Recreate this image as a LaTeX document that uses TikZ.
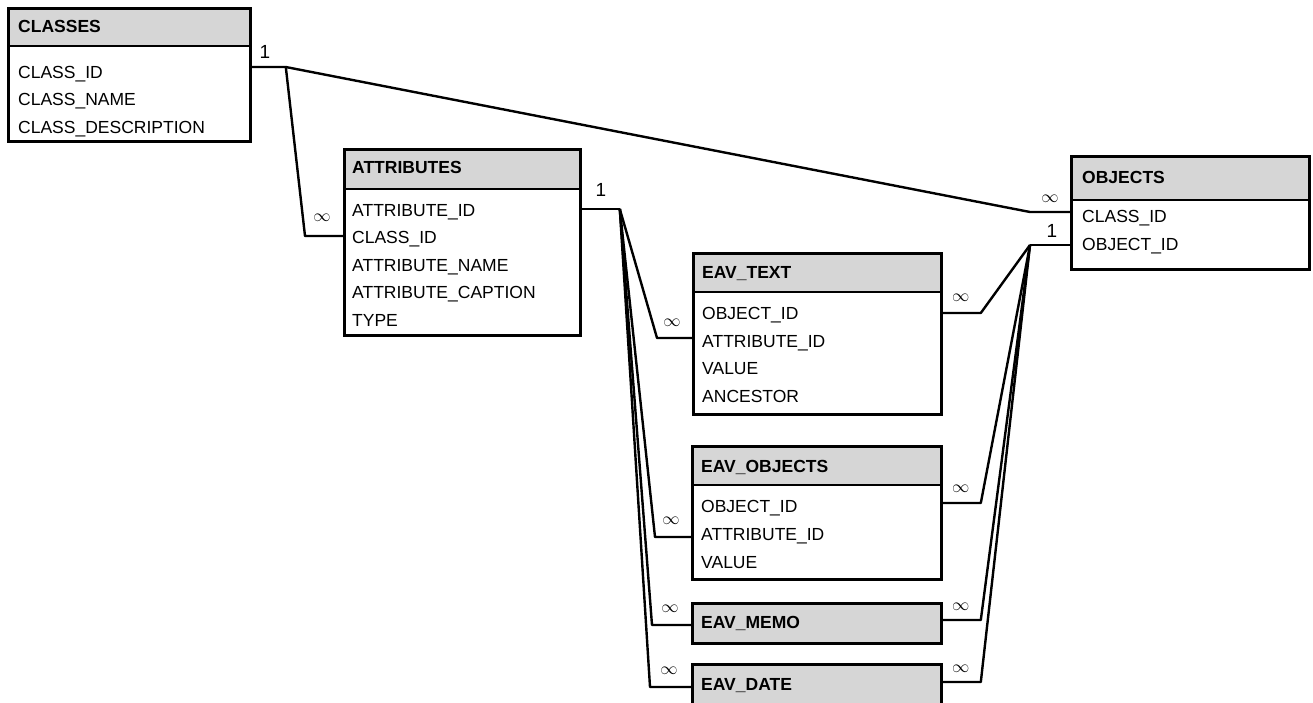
\documentclass[tikz,border=0pt]{standalone}
\usepackage{fontspec}
\setmainfont{Liberation Sans}
\usetikzlibrary{positioning}

\tikzset{
  hdr/.style={fill=black!16, anchor=north west, inner sep=0pt},
  tbl/.style={draw, line width=2.8pt, anchor=north west, inner sep=0pt},
  sep/.style={line width=2pt},
  row/.style={anchor=base west, inner sep=0pt, font=\fontsize{17.5}{20}\selectfont},
  title/.style={row, font=\fontsize{17.5}{20}\selectfont\bfseries},
  link/.style={line width=2.4pt, line join=round},
  card/.style={inner sep=0pt, font=\fontsize{19}{20}\selectfont},
}

\begin{document}
\begin{tikzpicture}[x=1pt, y=-1pt]

  \useasboundingbox (0,0) rectangle (1313,702);
  \clip (0,0) rectangle (1313,702);

  % CLASSES
  \node[hdr, minimum width=242pt, minimum height=39pt] (cls-h) at (7,7) {};
  \node[tbl, minimum width=242pt, minimum height=133pt] (classes) at (7,7) {};
  \draw[sep] (cls-h.south west) -- (cls-h.south east);
  \node[title] (cls-t) at (18,32) {CLASSES};
  \foreach \t [count=\i] in {CLASS\_ID, CLASS\_NAME, CLASS\_DESCRIPTION}
    \node[row] (cls-\i) at (18, 50.4+27.6*\i) {\t};

  % ATTRIBUTES
  \node[hdr, minimum width=236pt, minimum height=41pt] (att-h) at (343,148) {};
  \node[tbl, minimum width=236pt, minimum height=186pt] (attributes) at (343,148) {};
  \draw[sep] (att-h.south west) -- (att-h.south east);
  \node[title] (att-t) at (352,173) {ATTRIBUTES};
  \foreach \t [count=\i] in {ATTRIBUTE\_ID, CLASS\_ID, ATTRIBUTE\_NAME, ATTRIBUTE\_CAPTION, TYPE}
    \node[row] (att-\i) at (352, 188.5+27.6*\i) {\t};

  % OBJECTS
  \node[hdr, minimum width=238pt, minimum height=45pt] (obj-h) at (1070,155) {};
  \node[tbl, minimum width=238pt, minimum height=113pt] (objects) at (1070,155) {};
  \draw[sep] (obj-h.south west) -- (obj-h.south east);
  \node[title] (obj-t) at (1082,183) {OBJECTS};
  \foreach \t [count=\i] in {CLASS\_ID, OBJECT\_ID}
    \node[row] (obj-\i) at (1082, 194+28*\i) {\t};

  % EAV_TEXT
  \node[hdr, minimum width=248pt, minimum height=40pt] (txt-h) at (692,252) {};
  \node[tbl, minimum width=248pt, minimum height=161pt] (eavtext) at (692,252) {};
  \draw[sep] (txt-h.south west) -- (txt-h.south east);
  \node[title] (txt-t) at (702,278) {EAV\_TEXT};
  \foreach \t [count=\i] in {OBJECT\_ID, ATTRIBUTE\_ID, VALUE, ANCESTOR}
    \node[row] (txt-\i) at (702, 292+27.5*\i) {\t};

  % EAV_OBJECTS
  \node[hdr, minimum width=249pt, minimum height=40pt] (eob-h) at (691,445) {};
  \node[tbl, minimum width=249pt, minimum height=133pt] (eavobjects) at (691,445) {};
  \draw[sep] (eob-h.south west) -- (eob-h.south east);
  \node[title] (eob-t) at (701,472) {EAV\_OBJECTS};
  \foreach \t [count=\i] in {OBJECT\_ID, ATTRIBUTE\_ID, VALUE}
    \node[row] (eob-\i) at (701, 484+28*\i) {\t};

  % EAV_MEMO and EAV_DATE (header only)
  \node[hdr, minimum width=249pt, minimum height=40pt] (mem-h) at (691,602) {};
  \node[tbl, minimum width=249pt, minimum height=40pt] (eavmemo) at (691,602) {};
  \node[title] (mem-t) at (701,628) {EAV\_MEMO};
  \node[hdr, minimum width=249pt, minimum height=50pt] (dat-h) at (691,663) {};
  \node[tbl, minimum width=249pt, minimum height=50pt] (eavdate) at (691,663) {};
  \node[title] (dat-t) at (701,690) {EAV\_DATE};

  % ports
  \coordinate (p-cls) at ([yshift=-60pt]classes.north east);
  \coordinate (p-att-w) at ([yshift=-88pt]attributes.north west);
  \coordinate (p-att-e) at ([yshift=-61pt]attributes.north east);
  \coordinate (p-obj-c) at ([yshift=-57pt]objects.north west);
  \coordinate (p-obj-o) at ([yshift=-90pt]objects.north west);
  \coordinate (p-txt-w) at ([yshift=-86pt]eavtext.north west);
  \coordinate (p-txt-e) at ([yshift=-61pt]eavtext.north east);
  \coordinate (p-eob-w) at ([yshift=-92pt]eavobjects.north west);
  \coordinate (p-eob-e) at ([yshift=-58pt]eavobjects.north east);
  \coordinate (p-mem-w) at ([yshift=-23pt]eavmemo.north west);
  \coordinate (p-mem-e) at ([yshift=-18pt]eavmemo.north east);
  \coordinate (p-dat-w) at ([yshift=-24pt]eavdate.north west);
  \coordinate (p-dat-e) at ([yshift=-19pt]eavdate.north east);

  % junctions
  \coordinate (j-cls) at ([xshift=34pt]p-cls);
  \coordinate (j-att) at ([xshift=38pt]p-att-e);
  \coordinate (j-obj) at ([xshift=-40pt]p-obj-o);

  % CLASSES relations
  \draw[link] (p-cls) -- (j-cls) -- ([xshift=-40pt]p-obj-c) -- (p-obj-c);
  \draw[link] (j-cls) -- ([xshift=-38pt]p-att-w) -- (p-att-w);

  % ATTRIBUTES relations
  \draw[link] (p-att-e) -- (j-att);
  \draw[link] (j-att) -- ([xshift=-35pt]p-txt-w) -- (p-txt-w);
  \draw[link] (j-att) -- ([xshift=-36pt]p-eob-w) -- (p-eob-w);
  \draw[link] (j-att) -- ([xshift=-39pt]p-mem-w) -- (p-mem-w);
  \draw[link] (j-att) -- ([xshift=-41pt]p-dat-w) -- (p-dat-w);

  % OBJECTS relations
  \draw[link] (p-obj-o) -- (j-obj);
  \draw[link] (p-txt-e) -- ([xshift=38pt]p-txt-e) -- (j-obj);
  \draw[link] (p-eob-e) -- ([xshift=38pt]p-eob-e) -- (j-obj);
  \draw[link] (p-mem-e) -- ([xshift=38pt]p-mem-e) -- (j-obj);
  \draw[link] (p-dat-e) -- ([xshift=38pt]p-dat-e) -- (j-obj);

  % cardinalities
  \node[card] (c1) at ([xshift=13pt,yshift=15pt]p-cls) {1};
  \node[card] (c2) at ([xshift=-21pt,yshift=18pt]p-att-w) {$\infty$};
  \node[card] (c3) at ([xshift=19pt,yshift=19pt]p-att-e) {1};
  \node[card] (c4) at ([xshift=-20pt,yshift=13pt]p-obj-c) {$\infty$};
  \node[card] (c5) at ([xshift=-18pt,yshift=14pt]p-obj-o) {1};
  \node[card] (c6) at ([xshift=-20pt,yshift=15pt]p-txt-w) {$\infty$};
  \node[card] (c7) at ([xshift=18pt,yshift=15pt]p-txt-e) {$\infty$};
  \node[card] (c8) at ([xshift=-20pt,yshift=16pt]p-eob-w) {$\infty$};
  \node[card] (c9) at ([xshift=18pt,yshift=14pt]p-eob-e) {$\infty$};
  \node[card] (c10) at ([xshift=-21pt,yshift=16pt]p-mem-w) {$\infty$};
  \node[card] (c11) at ([xshift=18pt,yshift=13pt]p-mem-e) {$\infty$};
  \node[card] (c12) at ([xshift=-22pt,yshift=16pt]p-dat-w) {$\infty$};
  \node[card] (c13) at ([xshift=18pt,yshift=13pt]p-dat-e) {$\infty$};

\end{tikzpicture}
\end{document}
